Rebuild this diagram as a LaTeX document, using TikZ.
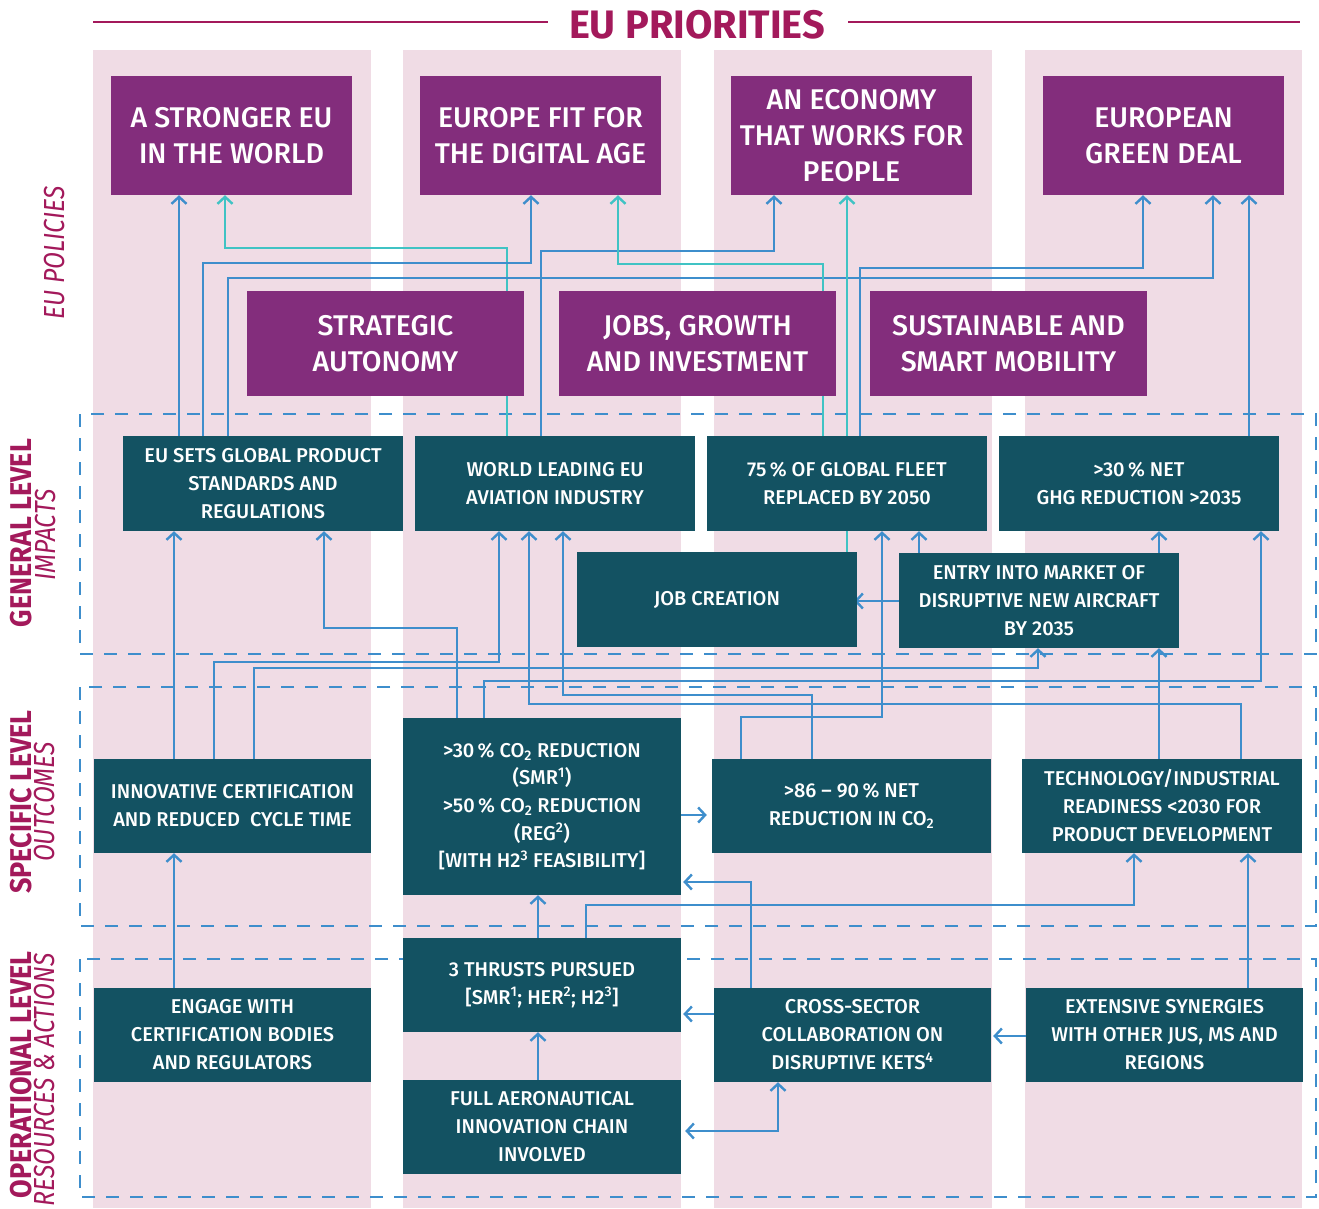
\documentclass[tikz,border=0pt]{standalone}
\usepackage{fontspec}
\setmainfont{Fira Sans}
\newfontfamily\medfont{Fira Sans Medium}
\newfontfamily\condfont[FakeStretch=0.9]{Fira Sans}
\newfontfamily\condifont[FakeStretch=0.85]{Fira Sans}
\usetikzlibrary{arrows.meta}
\definecolor{pinkbg}{HTML}{F0DCE5}
\definecolor{purp}{HTML}{832D7C}
\definecolor{tealbox}{HTML}{135262}
\definecolor{linkblue}{HTML}{3E8ECC}
\definecolor{linkcyan}{HTML}{40C3C4}
\definecolor{magtext}{HTML}{A3195B}
\pgfdeclarelayer{bg}
\pgfdeclarelayer{links}
\pgfsetlayers{bg,links,main}
\tikzset{
  pbox/.style={fill=purp, text=white, align=center, inner sep=0pt, font=\medfont\fontsize{28.5}{36}\selectfont},
  pboxa/.style={pbox, minimum width=241pt, minimum height=119pt},
  pboxb/.style={pbox, minimum width=277pt, minimum height=105pt},
  tbox/.style={fill=tealbox, text=white, align=center, inner sep=0pt, font=\medfont\fontsize{20}{28}\selectfont, minimum height=95pt},
  link/.style={draw=linkblue, line width=2.4pt, -{Straight Barb[length=7pt,width=15pt]}},
  clink/.style={link, draw=linkcyan},
  blink/.style={link, {Straight Barb[length=7pt,width=15pt]}-{Straight Barb[length=7pt,width=15pt]}},
  frame/.style={draw=linkblue, line width=1.4pt, dash pattern=on 13pt off 11pt},
  lvl/.style={rotate=90, text=magtext, font=\condfont\bfseries\fontsize{30}{30}\selectfont},
  sub/.style={rotate=90, text=magtext, font=\condifont\itshape\fontsize{29}{29}\selectfont},
}
\begin{document}
\begin{tikzpicture}[x=1pt,y=-1pt]
\useasboundingbox (0,0) rectangle (1319,1208);
% background
\begin{pgfonlayer}{bg}
\fill[white] (0,0) rectangle (1319,1208);
\foreach \a/\b in {93/371,403/681,714/992,1025/1302}
  \fill[pinkbg] (\a,50) rectangle (\b,1208);
\draw[frame] (80,414) rectangle (1316,654);
\draw[frame] (80,687) rectangle (1316,926);
\draw[frame] (80,959) rectangle (1316,1197);
\end{pgfonlayer}
% title
\node[text=magtext, font=\bfseries\fontsize{39.7}{40}\selectfont] (title) at (697,25) {EU PRIORITIES};
\draw[magtext, line width=2pt] (93,22) -- (548,22);
\draw[magtext, line width=2pt] (848,22) -- (1300,22);
% left labels
\node[sub] (pol) at (55,253) {EU POLICIES};
\node[lvl] (gen) at (21,533) {GENERAL LEVEL};
\node[sub] (imp) at (46,535) {IMPACTS};
\node[lvl] (spe) at (21,802) {SPECIFIC LEVEL};
\node[sub] (out) at (45,802) {OUTCOMES};
\node[lvl] (ope) at (21,1075) {OPERATIONAL LEVEL};
\node[sub] (res) at (45,1080) {RESOURCES \& ACTIONS};
% policy boxes
\node[pboxa] (A) at (231.5,135.5) {A STRONGER EU\\IN THE WORLD};
\node[pboxa] (B) at (540.5,135.5) {EUROPE FIT FOR\\THE DIGITAL AGE};
\node[pboxa] (C) at (851.5,135.5) {AN ECONOMY\\THAT WORKS FOR\\PEOPLE};
\node[pboxa] (D) at (1163.5,135.5) {EUROPEAN\\GREEN DEAL};
\node[pboxb] (SA) at (385.5,343.5) {STRATEGIC\\AUTONOMY};
\node[pboxb] (JG) at (697.5,343.5) {JOBS, GROWTH\\AND INVESTMENT};
\node[pboxb] (SM) at (1008.5,343.5) {SUSTAINABLE AND\\SMART MOBILITY};
% general level
\node[tbox, minimum width=280pt] (G1) at (263,483.5) {EU SETS GLOBAL PRODUCT\\STANDARDS AND\\REGULATIONS};
\node[tbox, minimum width=280pt] (G2) at (555,483.5) {WORLD LEADING EU\\AVIATION INDUSTRY};
\node[tbox, minimum width=280pt] (G3) at (847,483.5) {75\,\% OF GLOBAL FLEET\\REPLACED BY 2050};
\node[tbox, minimum width=280pt] (G4) at (1139,483.5) {>30\,\% NET\\GHG REDUCTION >2035};
\node[tbox, minimum width=280pt] (Job) at (717,599.5) {JOB CREATION};
\node[tbox, minimum width=280pt] (Entry) at (1039,600.5) {ENTRY INTO MARKET OF\\DISRUPTIVE NEW AIRCRAFT\\BY 2035};
% specific level
\node[tbox, minimum width=277pt, minimum height=94pt] (S1) at (232.5,806) {INNOVATIVE CERTIFICATION\\AND REDUCED\ \ CYCLE TIME};
\node[tbox, minimum width=278pt, minimum height=177pt, font=\medfont\fontsize{20}{27.7}\selectfont] (S2) at (542,806.5) {>30\,\% CO\textsubscript{2} REDUCTION\\(SMR\textsuperscript{1})\\>50\,\% CO\textsubscript{2} REDUCTION\\(REG\textsuperscript{2})\\{[}WITH H2\textsuperscript{3} FEASIBILITY{]}};
\node[tbox, minimum width=279pt, minimum height=94pt] (S3) at (851.5,806) {>86 – 90\,\% NET\\REDUCTION IN CO\textsubscript{2}};
\node[tbox, minimum width=280pt, minimum height=94pt] (S4) at (1162,806) {TECHNOLOGY/INDUSTRIAL\\READINESS <2030 FOR\\PRODUCT DEVELOPMENT};
% operational level
\node[tbox, minimum width=277pt, minimum height=94pt] (O1) at (232.5,1035) {ENGAGE WITH\\CERTIFICATION BODIES\\AND REGULATORS};
\node[tbox, minimum width=278pt, minimum height=94pt] (O2) at (542,985) {3 THRUSTS PURSUED\\{[}SMR\textsuperscript{1}; HER\textsuperscript{2}; H2\textsuperscript{3}{]}};
\node[tbox, minimum width=277pt, minimum height=94pt] (O3) at (852.5,1035) {CROSS-SECTOR\\COLLABORATION ON\\DISRUPTIVE KETS\textsuperscript{4}};
\node[tbox, minimum width=277pt, minimum height=94pt] (O4) at (1164.5,1035) {EXTENSIVE SYNERGIES\\WITH OTHER JUS, MS AND\\REGIONS};
\node[tbox, minimum width=278pt, minimum height=94pt] (O5) at (542,1127) {FULL AERONAUTICAL\\INNOVATION CHAIN\\INVOLVED};
% connectors
\begin{pgfonlayer}{links}
% to policies
\draw[link] (179,0 |- G1.north) -- (179,0 |- A.south);
\draw[clink] (507,0 |- G2.north) |- (225,248) -- (225,0 |- A.south);
\draw[link] (203,0 |- G1.north) |- (531,263) -- (531,0 |- B.south);
\draw[link] (228,0 |- G1.north) |- (1213,278) -- (1213,0 |- D.south);
\draw[link] (541,0 |- G2.north) |- (774,251) -- (774,0 |- C.south);
\draw[clink] (823,0 |- G3.north) |- (618,264) -- (618,0 |- B.south);
\draw[clink] (847,0 |- Job.north) -- (847,0 |- C.south);
\draw[link] (860,0 |- G3.north) |- (1143,268) -- (1143,0 |- D.south);
\draw[link] (1249,0 |- G4.north) -- (1249,0 |- D.south);
% to impacts
\draw[link] (174,0 |- S1.north) -- (174,0 |- G1.south);
\draw[link] (457,0 |- S2.north) |- (324,628) -- (324,0 |- G1.south);
\draw[link] (214,0 |- S1.north) |- (499,662) -- (499,0 |- G2.south);
\draw[link] (254,0 |- S1.north) |- (1038,668) -- (1038,0 |- Entry.south);
\draw[link] (484,0 |- S2.north) |- (1261,681) -- (1261,0 |- G4.south);
\draw[link] (812,0 |- S3.north) |- (563,695) -- (563,0 |- G2.south);
\draw[link] (1241,0 |- S4.north) |- (529,704) -- (529,0 |- G2.south);
\draw[link] (741,0 |- S3.north) |- (882,717) -- (882,0 |- G3.south);
\draw[link] (919,0 |- Entry.north) -- (919,0 |- G3.south);
\draw[link] (1159,0 |- Entry.north) -- (1159,0 |- G4.south);
\draw[link] (Entry.west |- 0,601) -- ([xshift=-3pt]Job.east |- 0,601);
\draw[link] (1159,0 |- S4.north) -- (1159,0 |- Entry.south);
% to outcomes
\draw[link] (S2.east |- 0,815) -- ([xshift=-5pt]S3.west |- 0,815);
\draw[link] (751,0 |- O3.north) |- ([xshift=2pt]S2.east |- 0,882);
\draw[link] (586,0 |- O2.north) |- (1134,905) -- (1134,0 |- S4.south);
\draw[link] (1248,0 |- O4.north) -- (1248,0 |- S4.south);
\draw[link] (538,0 |- O2.north) -- (538,0 |- S2.south);
% operational
\draw[link] (538,0 |- O5.north) -- (538,0 |- O2.south);
\draw[link] (O3.west |- 0,1014) -- ([xshift=2pt]O2.east |- 0,1014);
\draw[blink] ([xshift=4pt]O5.east |- 0,1131) -| (778,0 |- O3.south);
\draw[link] (O4.west |- 0,1036) -- ([xshift=2pt]O3.east |- 0,1036);
\draw[link] (174,0 |- O1.north) -- (174,0 |- S1.south);
\end{pgfonlayer}
\end{tikzpicture}
\end{document}
